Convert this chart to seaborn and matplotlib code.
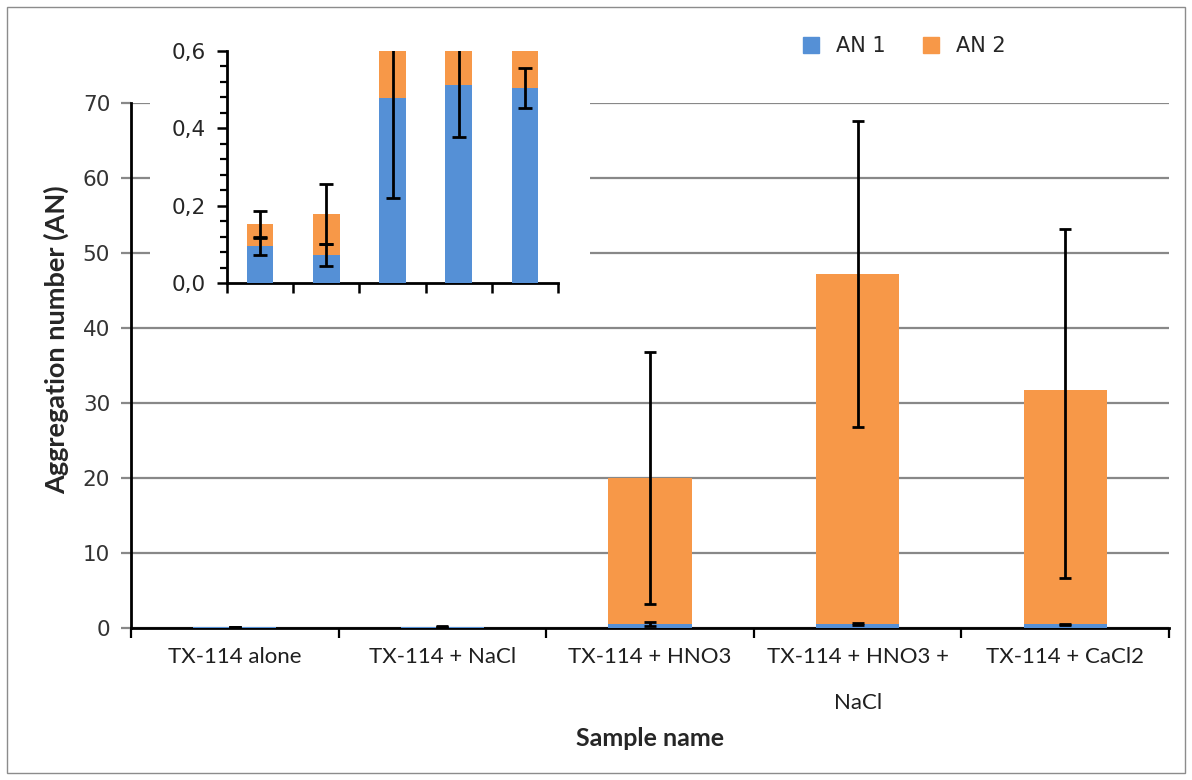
import matplotlib
matplotlib.use("Agg")
import matplotlib.pyplot as plt
from matplotlib.patches import Rectangle
from matplotlib.lines import Line2D
from matplotlib.ticker import MultipleLocator
from matplotlib.font_manager import FontProperties
import seaborn as sns
import numpy as np

sns.set_theme(style="white")
plt.rcParams["font.family"] = ["DejaVu Sans"]

# Sample categories and aggregation numbers
samples = ["TX-114 alone", "TX-114 + NaCl", "TX-114 + HNO3",
           "TX-114 + HNO3 +\nNaCl", "TX-114 + CaCl2"]
an1 = [0.096, 0.072, 0.478, 0.513, 0.504]
an2 = [0.056, 0.106, 19.50, 46.70, 31.20]
an1_err = [0.023, 0.028, 0.258, 0.135, 0.051]
an2_err_low = [0.035, 0.078, 16.8, 20.4, 25.0]
an2_err_high = [0.035, 0.078, 16.8, 20.4, 21.5]

main_yticks = [0, 10, 20, 30, 40, 50, 60, 70]
inset_yticks = [0.0, 0.2, 0.4, 0.6]

BLUE = "#5590D6"
ORANGE = "#F79848"
GRID = "#888888"
NUM_FONT = "DejaVu Sans"
LABEL_FONT = "Lato"

an1 = np.array(an1)
an2 = np.array(an2)
total = an1 + an2
pos = np.arange(len(samples))

fig = plt.figure(figsize=(11.92, 7.8), dpi=100)
fig.patches.append(Rectangle((7 / 1192, 7 / 780), 1178 / 1192, 766 / 780,
                             transform=fig.transFigure, fill=False,
                             edgecolor="#8c8c8c", lw=1.0))


def stacked(ax, capsize):
    # orange totals underneath, blue first component drawn over them
    sns.barplot(x=samples, y=total, color=ORANGE, width=0.4, saturation=1,
                ax=ax, zorder=2, linewidth=0)
    sns.barplot(x=samples, y=an1, color=BLUE, width=0.4, saturation=1,
                ax=ax, zorder=3, linewidth=0)
    ax.errorbar(pos, an1, yerr=an1_err, fmt="none", ecolor="black",
                elinewidth=2, capsize=capsize, capthick=2, zorder=4)
    ax.errorbar(pos, total, yerr=[an2_err_low, an2_err_high], fmt="none",
                ecolor="black", elinewidth=2, capsize=capsize, capthick=2,
                zorder=4)
    ax.set_xlim(-0.5, len(samples) - 0.5)


# ---- main chart ----
ax = fig.add_axes([131 / 1192, 1 - 628 / 780, 1038 / 1192, 525 / 780])
stacked(ax, 4.5)
ax.set_ylim(0, 70)
ax.set_yticks(main_yticks)
ax.set_yticklabels([str(v) for v in main_yticks],
                   fontproperties=FontProperties(family=NUM_FONT, size=15.5),
                   color="#333333")
ax.yaxis.grid(True, color=GRID, lw=1.6, zorder=0)
ax.set_axisbelow(True)
for s in ["top", "right"]:
    ax.spines[s].set_visible(False)
ax.spines["left"].set_color("black")
ax.spines["left"].set_linewidth(2)
ax.spines["bottom"].set_color("black")
ax.spines["bottom"].set_linewidth(2)

# category ticks sit on the boundaries between samples
ax.set_xticks(np.arange(-0.5, len(samples), 1.0))
ax.set_xticklabels([])
ax.set_xticks(pos, minor=True)
ax.set_xticklabels(samples, minor=True,
                   fontproperties=FontProperties(family=LABEL_FONT, size=16),
                   color="#1f1f1f", linespacing=2.6)
ax.tick_params(axis="x", which="major", direction="out", length=7, width=1.6,
               color="black", bottom=True)
ax.tick_params(axis="x", which="minor", length=0, pad=14)
ax.tick_params(axis="y", direction="out", length=7, width=1.6, color=GRID,
               left=True, pad=8)
ax.set_ylabel("Aggregation number (AN)",
              fontproperties=FontProperties(family=LABEL_FONT, size=19.5,
                                            weight="bold"))
ax.yaxis.set_label_coords(-0.060, 0.55)
ax.set_xlabel("Sample name",
              fontproperties=FontProperties(family=LABEL_FONT, size=18,
                                            weight="bold"), labelpad=10)

# white backing behind the inset
ax.add_patch(Rectangle((150 / 1192, 1 - 312 / 780), 440 / 1192, 285 / 780,
                       transform=fig.transFigure, facecolor="white",
                       edgecolor="none", zorder=5, clip_on=False))

# legend
handles = [Line2D([], [], marker="s", ls="none", markersize=11,
                  markerfacecolor=c, markeredgecolor=c) for c in (BLUE, ORANGE)]
fig.legend(handles, ["AN 1", "AN 2"], loc="center",
           bbox_to_anchor=(898 / 1192, 1 - 46 / 780), ncol=2, frameon=False,
           prop=FontProperties(family=NUM_FONT, size=15),
           handletextpad=0.2, columnspacing=1.2, labelcolor="#262626")

# ---- inset: zoom on the low range ----
ins = fig.add_axes([227 / 1192, 1 - 283 / 780, 331 / 1192, 232 / 780])
ins.set_zorder(6)
ins.patch.set_alpha(0)
stacked(ins, 5)
ins.set_ylim(0, 0.6)
ins.set_yticks(inset_yticks)
ins.set_yticklabels([f"{v:.1f}".replace(".", ",") for v in inset_yticks],
                    fontproperties=FontProperties(family=NUM_FONT, size=15.5),
                    color="#262626")
ins.yaxis.set_minor_locator(MultipleLocator(0.04))
ins.set_xticks(np.arange(-0.5, len(samples), 1.0))
ins.set_xticklabels([])
ins.set_xlabel("")
ins.set_ylabel("")
for s in ["top", "right"]:
    ins.spines[s].set_visible(False)
for s in ["left", "bottom"]:
    ins.spines[s].set_color("black")
    ins.spines[s].set_linewidth(2)
ins.tick_params(axis="x", which="major", direction="out", length=7, width=1.8,
                color="black", bottom=True)
ins.tick_params(axis="y", which="major", direction="out", length=7, width=1.8,
                color="black", left=True, pad=8)
ins.tick_params(axis="y", which="minor", direction="out", length=5, width=1.6,
                color="black", left=True)

fig.savefig("out.png", dpi=100)
